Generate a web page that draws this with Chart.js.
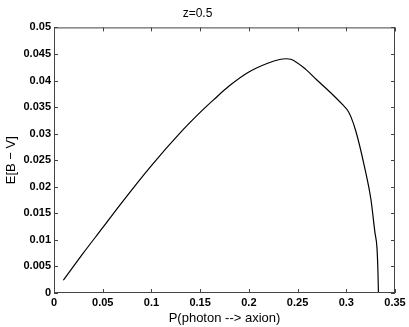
<!DOCTYPE html>
<html>
<head>
<meta charset="utf-8">
<script src="https://cdn.jsdelivr.net/npm/chart.js@4.4.1/dist/chart.umd.min.js"></script>
<style>
  html, body { margin: 0; padding: 0; background: #fff; }
  #wrap { width: 409px; height: 327px; }
</style>
</head>
<body>
<div id="wrap"><canvas id="chart"></canvas></div>
<script>
// datos
const probX = [0.0096, 0.03, 0.05, 0.0686, 0.1, 0.1297, 0.15, 0.164, 0.18, 0.2, 0.22, 0.2327, 0.238, 0.243,
  0.2584, 0.2704, 0.284, 0.296, 0.3013, 0.3047, 0.3099, 0.3184, 0.3253, 0.3294, 0.3315, 0.3325, 0.333];
const ebvY = [0.0024, 0.0075, 0.0123, 0.0168, 0.0240, 0.0302, 0.0340, 0.0364, 0.0390, 0.0416, 0.0433, 0.0440, 0.0441, 0.0440,
  0.0421, 0.0400, 0.0377, 0.0355, 0.0344, 0.0332, 0.0304, 0.0240, 0.0176, 0.0114, 0.0085, 0.004, 0.0];
const xTicks = [0, 0.05, 0.1, 0.15, 0.2, 0.25, 0.3, 0.35];
const yTicks = [0, 0.005, 0.01, 0.015, 0.02, 0.025, 0.03, 0.035, 0.04, 0.045, 0.05];

const FONT = "'Liberation Sans', Helvetica, Arial, sans-serif";
const AXIS_COLOR = '#444';

// caja y marcas hacia dentro (estilo matlab)
const boxPlugin = {
  id: 'boxPlugin',
  afterDraw(chart) {
    const { ctx, chartArea: a, scales } = chart;
    ctx.save();
    ctx.strokeStyle = AXIS_COLOR;
    ctx.lineWidth = 1;
    ctx.strokeRect(a.left + 0.5, a.top + 0.5, a.right - a.left - 1, a.bottom - a.top - 1);
    const len = 4;
    ctx.beginPath();
    xTicks.forEach(v => {
      const px = Math.round(scales.x.getPixelForValue(v)) + 0.5;
      ctx.moveTo(px, a.bottom); ctx.lineTo(px, a.bottom - len);
      ctx.moveTo(px, a.top); ctx.lineTo(px, a.top + len);
    });
    yTicks.forEach(v => {
      const py = Math.round(scales.y.getPixelForValue(v)) + 0.5;
      ctx.moveTo(a.left, py); ctx.lineTo(a.left + len, py);
      ctx.moveTo(a.right, py); ctx.lineTo(a.right - len, py);
    });
    ctx.stroke();
    ctx.restore();
  }
};

const fmt = v => String(+v.toFixed(3));

new Chart(document.getElementById('chart'), {
  type: 'line',
  data: {
    datasets: [{
      data: probX.map((x, i) => ({ x: x, y: ebvY[i] })),
      borderColor: '#000',
      borderWidth: 1.2,
      pointRadius: 0,
      cubicInterpolationMode: 'monotone',
      fill: false
    }]
  },
  options: {
    responsive: true,
    maintainAspectRatio: false,
    animation: false,
    layout: { padding: { left: 0, right: 14, top: 0, bottom: 0 } },
    plugins: {
      legend: { display: false },
      tooltip: { enabled: false },
      title: {
        display: true,
        text: 'z=0.5',
        color: '#000',
        font: { family: FONT, size: 12, weight: 'normal' },
        padding: { top: 6, bottom: 7 }
      }
    },
    scales: {
      x: {
        type: 'linear',
        min: 0, max: 0.35,
        afterBuildTicks: s => { s.ticks = xTicks.map(v => ({ value: v })); },
        afterFit: s => { s.height = 34; },
        grid: { display: false, drawTicks: false },
        border: { display: false },
        ticks: {
          color: '#000',
          padding: 3,
          maxRotation: 0,
          font: { family: FONT, size: 11, weight: 'bold' },
          callback: fmt
        },
        title: {
          display: true,
          text: 'P(photon --> axion)',
          color: '#000',
          font: { family: FONT, size: 13, weight: 'normal' },
          padding: { top: 0, bottom: 1 }
        }
      },
      y: {
        min: 0, max: 0.05,
        afterBuildTicks: s => { s.ticks = yTicks.map(v => ({ value: v })); },
        afterFit: s => { s.width = 54; },
        grid: { display: false, drawTicks: false },
        border: { display: false },
        ticks: {
          color: '#000',
          padding: 3,
          font: { family: FONT, size: 11, weight: 'bold' },
          callback: fmt
        },
        title: {
          display: true,
          text: 'E[B − V]',
          color: '#000',
          font: { family: FONT, size: 13, weight: 'normal' },
          padding: { top: 4, bottom: 0 }
        }
      }
    }
  },
  plugins: [boxPlugin]
});
</script>
</body>
</html>
